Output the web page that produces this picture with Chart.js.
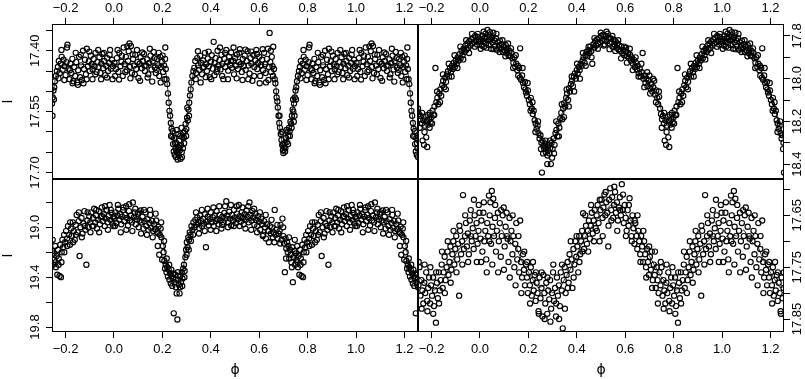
<!DOCTYPE html>
<html><head><meta charset="utf-8">
<script src="https://cdn.jsdelivr.net/npm/chart.js@4.4.1/dist/chart.umd.min.js"></script>
<style>
html,body{margin:0;padding:0;background:#fff;}
#wrap{position:relative;width:805px;height:379px;overflow:hidden;background:#fff;}
#wrap canvas{position:absolute;left:0;top:0;}
</style></head><body>
<div id="wrap">
<canvas id="cTL" width="805" height="379"></canvas>
<canvas id="cTR" width="805" height="379"></canvas>
<canvas id="cBL" width="805" height="379"></canvas>
<canvas id="cBR" width="805" height="379"></canvas>
</div>
<script>
// ---------- tick values ----------
const phaseTicks = [-0.2, 0, 0.2, 0.4, 0.6, 0.8, 1.0, 1.2];
const tlYTicks = [17.35, 17.40, 17.45, 17.50, 17.55, 17.60, 17.65, 17.70];
const tlYLabels = [17.40, 17.55, 17.70];
const trYTicks = [17.8, 17.9, 18.0, 18.1, 18.2, 18.3, 18.4];
const trYLabels = [17.8, 18.0, 18.2, 18.4];
const blYTicks = [18.8, 19.0, 19.2, 19.4, 19.6, 19.8];
const blYLabels = [19.0, 19.4, 19.8];
const brYTicks = [17.60, 17.65, 17.70, 17.75, 17.80, 17.85];
const brYLabels = [17.65, 17.75, 17.85];

// ---------- observations [phase, magnitude] over one cycle ----------
const tlObs = [
[0.002,17.430],[0.008,17.445],[0.012,17.418],[0.018,17.452],[0.022,17.405],[0.027,17.438],[0.031,17.427],[0.036,17.462],[0.040,17.392],[0.044,17.433],
[0.049,17.415],[0.053,17.448],[0.058,17.425],[0.061,17.401],[0.064,17.382],[0.066,17.440],[0.070,17.388],[0.074,17.455],[0.079,17.420],[0.083,17.436],
[0.088,17.410],[0.092,17.445],[0.097,17.428],[0.101,17.467],[0.106,17.432],[0.110,17.416],[0.115,17.443],[0.119,17.425],[0.124,17.408],[0.128,17.450],
[0.133,17.437],[0.137,17.421],[0.142,17.458],[0.146,17.430],[0.151,17.412],[0.155,17.446],[0.160,17.426],[0.164,17.403],[0.169,17.441],[0.173,17.455],
[0.178,17.420],[0.182,17.436],[0.187,17.462],[0.191,17.415],[0.195,17.440],[0.199,17.427],[0.203,17.452],[0.207,17.436],[0.211,17.420],[0.214,17.445],
[0.217,17.470],[0.220,17.482],[0.223,17.505],[0.226,17.528],[0.229,17.548],[0.232,17.560],[0.235,17.578],[0.238,17.592],[0.241,17.612],[0.244,17.630],
[0.247,17.648],[0.249,17.615],[0.251,17.656],[0.254,17.640],[0.256,17.662],[0.258,17.628],[0.259,17.595],[0.261,17.650],[0.263,17.668],[0.265,17.637],
[0.266,17.605],[0.268,17.658],[0.270,17.622],[0.272,17.645],[0.275,17.666],[0.277,17.632],[0.279,17.590],[0.280,17.650],[0.282,17.612],[0.285,17.640],
[0.287,17.603],[0.290,17.628],[0.293,17.598],[0.296,17.580],[0.299,17.593],[0.302,17.565],[0.305,17.572],[0.308,17.545],[0.311,17.528],[0.314,17.510],
[0.317,17.495],[0.320,17.478],[0.324,17.462],[0.328,17.450],
[0.332,17.442],[0.336,17.425],[0.340,17.455],[0.344,17.418],[0.348,17.436],[0.352,17.447],[0.356,17.412],[0.360,17.430],[0.364,17.458],[0.368,17.424],
[0.372,17.440],[0.376,17.405],[0.380,17.433],[0.384,17.450],[0.388,17.419],[0.392,17.438],[0.396,17.465],[0.400,17.427],[0.404,17.411],[0.408,17.444],
[0.412,17.378],[0.416,17.430],[0.420,17.418],[0.424,17.452],[0.428,17.400],[0.432,17.436],[0.436,17.423],[0.440,17.446],[0.444,17.410],[0.448,17.432],
[0.452,17.470],[0.456,17.420],[0.460,17.440],[0.464,17.398],[0.468,17.428],[0.472,17.449],[0.476,17.415],[0.480,17.435],[0.484,17.404],[0.488,17.442],
[0.492,17.425],[0.496,17.458],[0.500,17.418],[0.504,17.437],[0.508,17.409],[0.512,17.445],[0.516,17.428],[0.520,17.396],[0.524,17.433],[0.528,17.452],
[0.532,17.420],[0.536,17.438],[0.540,17.412],[0.544,17.447],[0.548,17.425],[0.552,17.401],[0.556,17.436],[0.560,17.456],[0.564,17.418],[0.568,17.432],
[0.572,17.474],[0.576,17.410],[0.580,17.440],[0.584,17.424],[0.588,17.398],[0.592,17.445],[0.596,17.430],[0.600,17.415],[0.604,17.462],[0.608,17.435],
[0.612,17.422],[0.616,17.448],[0.620,17.405],[0.624,17.433],[0.628,17.478],[0.632,17.420],[0.636,17.395],[0.640,17.440],[0.643,17.356],[0.646,17.428],
[0.649,17.452],[0.652,17.415],[0.655,17.438],[0.658,17.390],[0.661,17.445],[0.664,17.470],
[0.667,17.480],[0.670,17.500],[0.672,17.515],[0.675,17.525],[0.677,17.540],[0.680,17.560],[0.683,17.578],[0.686,17.590],[0.689,17.605],[0.692,17.620],
[0.695,17.632],[0.698,17.645],[0.700,17.652],[0.702,17.638],[0.705,17.628],[0.708,17.640],[0.711,17.615],[0.714,17.625],[0.717,17.600],[0.720,17.610],
[0.723,17.590],[0.726,17.598],[0.729,17.575],[0.732,17.580],[0.735,17.560],[0.738,17.545],[0.741,17.550],[0.743,17.575],[0.744,17.530],[0.746,17.560],
[0.747,17.515],[0.750,17.498],[0.753,17.490],[0.756,17.475],[0.760,17.462],[0.764,17.450],
[0.768,17.440],[0.772,17.425],[0.776,17.455],[0.780,17.432],[0.784,17.415],[0.788,17.447],[0.792,17.422],[0.796,17.438],[0.800,17.460],[0.804,17.428],
[0.808,17.385],[0.812,17.444],[0.816,17.470],[0.820,17.432],[0.824,17.455],[0.828,17.420],[0.832,17.475],[0.836,17.440],[0.840,17.462],[0.844,17.428],
[0.848,17.478],[0.852,17.448],[0.856,17.415],[0.860,17.465],[0.864,17.436],[0.868,17.472],[0.872,17.400],[0.876,17.445],[0.880,17.422],[0.884,17.458],
[0.888,17.395],[0.892,17.438],[0.896,17.426],[0.900,17.450],[0.904,17.412],[0.908,17.433],[0.912,17.446],[0.916,17.420],[0.920,17.438],[0.924,17.405],
[0.928,17.452],[0.932,17.428],[0.936,17.440],[0.940,17.416],[0.944,17.455],[0.948,17.432],[0.952,17.408],[0.956,17.443],[0.960,17.425],[0.964,17.460],
[0.968,17.437],[0.972,17.418],[0.976,17.450],[0.980,17.430],[0.984,17.398],[0.988,17.444],[0.992,17.422],[0.996,17.438],
[0.005,17.462],[0.015,17.398],[0.021,17.471],[0.033,17.412],[0.047,17.452],[0.055,17.389],[0.068,17.468],[0.077,17.409],[0.086,17.458],[0.095,17.398],
[0.108,17.474],[0.117,17.404],[0.126,17.437],[0.139,17.466],[0.148,17.395],[0.158,17.476],[0.167,17.418],[0.176,17.447],[0.185,17.405],[0.193,17.478],
[0.201,17.412],[0.209,17.470],[0.212,17.392],[0.236,17.610],[0.243,17.598],[0.252,17.628],[0.257,17.645],[0.264,17.652],[0.269,17.640],[0.274,17.610],
[0.281,17.662],[0.289,17.614],[0.298,17.610],[0.303,17.540],[0.310,17.560],[0.338,17.470],[0.347,17.401],[0.358,17.478],[0.367,17.442],[0.379,17.465],
[0.391,17.402],[0.402,17.470],[0.415,17.460],[0.427,17.445],[0.438,17.392],[0.447,17.462],[0.459,17.405],[0.471,17.470],[0.483,17.425],[0.494,17.392],
[0.507,17.468],[0.518,17.405],[0.531,17.472],[0.543,17.397],[0.555,17.470],[0.567,17.402],[0.579,17.462],[0.591,17.408],[0.602,17.480],[0.614,17.396],
[0.626,17.455],[0.638,17.472],[0.648,17.400],[0.657,17.462],[0.684,17.560],[0.693,17.600],[0.699,17.630],[0.707,17.648],[0.713,17.595],[0.719,17.630],
[0.727,17.610],[0.734,17.590],[0.740,17.520],[0.752,17.520],[0.771,17.468],[0.783,17.398],[0.795,17.472],[0.806,17.392],[0.818,17.448],[0.829,17.480],
[0.842,17.405],[0.851,17.484],[0.863,17.410],[0.874,17.480],[0.887,17.470],[0.898,17.402],[0.911,17.470],[0.923,17.458],[0.935,17.398],[0.947,17.470],
[0.958,17.405],[0.971,17.466],[0.982,17.410],[0.994,17.470]
];
const tlFit = [[0,17.433],[0.1,17.432],[0.2,17.436],[0.215,17.455],[0.225,17.510],[0.235,17.575],[0.245,17.615],[0.26,17.640],[0.275,17.645],[0.29,17.620],
[0.30,17.580],[0.31,17.530],[0.32,17.480],[0.33,17.448],[0.34,17.437],[0.5,17.430],[0.655,17.435],[0.665,17.465],[0.675,17.530],[0.685,17.590],
[0.695,17.628],[0.703,17.645],[0.712,17.625],[0.722,17.595],[0.732,17.565],[0.742,17.530],[0.752,17.490],[0.762,17.455],[0.775,17.438],[0.9,17.433],[1.0,17.433]];

const trObs = [
[0.000,17.830],[0.004,17.815],[0.007,17.845],[0.010,17.800],[0.013,17.825],[0.016,17.850],[0.019,17.810],[0.022,17.790],[0.025,17.835],[0.028,17.805],
[0.031,17.772],[0.034,17.820],[0.037,17.842],[0.040,17.798],[0.043,17.815],[0.046,17.860],[0.049,17.808],[0.052,17.830],[0.055,17.785],[0.058,17.820],
[0.062,17.848],[0.066,17.812],[0.070,17.865],[0.074,17.830],[0.078,17.845],[0.082,17.822],[0.086,17.860],[0.090,17.838],[0.094,17.875],[0.098,17.850],
[0.102,17.868],[0.106,17.842],[0.110,17.880],[0.114,17.858],[0.118,17.890],[0.122,17.870],[0.126,17.895],[0.130,17.880],[0.134,17.905],[0.138,17.925],
[0.142,17.900],[0.146,17.945],[0.150,17.930],[0.154,17.960],[0.158,17.985],[0.162,17.950],[0.166,17.858],[0.170,18.005],[0.174,17.985],[0.178,18.020],
[0.182,18.040],[0.186,18.015],[0.190,18.065],[0.194,18.080],[0.198,18.055],[0.202,18.100],[0.206,18.120],[0.210,18.090],[0.214,18.140],[0.218,18.165],
[0.222,18.150],[0.226,18.195],[0.230,18.210],[0.234,18.235],[0.238,18.220],[0.242,18.255],[0.246,18.280],[0.250,18.265],[0.254,18.300],[0.256,18.440],
[0.258,18.290],[0.262,18.315],[0.266,18.330],[0.269,18.305],[0.272,18.345],[0.275,18.320],[0.278,18.400],[0.281,18.335],[0.284,18.310],[0.287,18.350],
[0.290,18.325],[0.293,18.400],[0.296,18.300],[0.300,18.330],[0.304,18.280],[0.308,18.310],[0.312,18.255],[0.316,18.240],[0.320,18.270],[0.324,18.210],
[0.328,18.230],[0.332,18.185],[0.336,18.160],[0.340,18.190],[0.344,18.140],[0.348,18.115],[0.352,18.130],[0.356,18.090],[0.360,18.070],[0.364,18.100],
[0.368,18.045],[0.372,18.060],[0.376,18.025],[0.380,18.010],[0.384,18.035],[0.388,17.990],[0.392,17.975],[0.396,18.000],[0.400,17.960],[0.404,17.975],
[0.408,17.945],[0.412,17.960],[0.416,17.930],[0.420,17.940],[0.424,17.915],[0.428,17.900],[0.432,17.925],[0.436,17.890],[0.440,17.875],[0.444,17.895],
[0.448,17.865],[0.452,17.880],[0.456,17.850],[0.460,17.870],[0.464,17.930],[0.468,17.840],[0.472,17.855],[0.476,17.825],[0.480,17.845],[0.484,17.815],
[0.488,17.835],[0.492,17.810],[0.496,17.828],[0.500,17.800],[0.504,17.822],[0.508,17.795],[0.512,17.815],[0.516,17.840],[0.520,17.800],[0.524,17.825],
[0.528,17.790],[0.532,17.808],[0.536,17.835],[0.540,17.812],[0.544,17.828],[0.548,17.850],[0.552,17.818],[0.556,17.840],[0.560,17.825],[0.564,17.855],
[0.568,17.835],[0.572,17.862],[0.576,17.845],[0.580,17.870],[0.584,17.850],[0.588,17.880],[0.592,17.865],[0.596,17.890],[0.600,17.872],[0.604,17.855],
[0.608,17.895],[0.612,17.880],[0.616,17.905],[0.620,17.888],[0.624,17.915],[0.628,17.900],[0.632,17.930],[0.636,17.912],[0.640,17.945],[0.644,17.925],
[0.648,17.958],[0.652,17.940],[0.656,17.975],[0.660,17.955],[0.664,17.990],[0.668,17.970],[0.672,17.880],[0.676,18.000],[0.680,17.985],[0.684,18.020],
[0.688,18.000],[0.692,18.035],[0.696,18.010],[0.700,17.985],[0.704,18.045],[0.708,18.025],[0.712,18.060],[0.716,18.040],[0.720,18.010],[0.724,18.075],
[0.728,18.055],[0.732,18.090],[0.736,18.120],[0.740,18.085],[0.744,18.140],[0.748,18.165],[0.752,18.190],[0.756,18.175],[0.760,18.210],[0.763,18.290],
[0.766,18.195],[0.769,18.310],[0.772,18.220],[0.775,18.180],[0.778,18.275],[0.781,18.200],[0.784,18.170],[0.787,18.215],[0.790,18.190],[0.793,18.160],
[0.796,18.205],[0.800,18.180],[0.804,18.150],[0.808,18.170],[0.812,18.130],[0.816,17.950],[0.820,18.110],[0.824,18.090],[0.828,18.120],[0.832,18.070],
[0.836,18.050],[0.840,18.080],[0.844,18.030],[0.848,18.010],[0.852,18.040],[0.856,17.995],[0.860,18.015],[0.864,17.980],[0.868,17.965],[0.872,17.990],
[0.876,17.950],[0.880,17.970],[0.884,17.940],[0.888,17.955],[0.892,17.925],[0.896,17.945],[0.900,17.915],[0.904,17.930],[0.908,17.900],[0.912,17.915],
[0.916,17.885],[0.920,17.905],[0.924,17.870],[0.928,17.890],[0.932,17.860],[0.936,17.875],[0.940,17.845],[0.944,17.865],[0.948,17.835],[0.952,17.855],
[0.956,17.825],[0.960,17.845],[0.964,17.815],[0.968,17.835],[0.972,17.810],[0.976,17.828],[0.980,17.800],[0.984,17.820],[0.988,17.840],[0.992,17.805],[0.996,17.825],
[0.003,17.860],[0.015,17.780],[0.027,17.855],[0.041,17.782],[0.056,17.862],[0.068,17.790],[0.081,17.875],[0.093,17.820],[0.105,17.895],[0.116,17.835],
[0.128,17.858],[0.137,17.950],[0.148,17.890],[0.157,17.940],[0.165,17.995],[0.176,17.950],[0.188,18.050],[0.197,18.020],[0.209,18.150],[0.217,18.110],
[0.229,18.250],[0.240,18.200],[0.252,18.330],[0.261,18.350],[0.271,18.290],[0.279,18.360],[0.289,18.290],[0.298,18.370],[0.306,18.350],[0.315,18.200],
[0.326,18.270],[0.338,18.120],[0.347,18.180],[0.358,18.050],[0.367,18.130],[0.379,17.990],[0.389,18.060],[0.401,17.930],[0.413,18.000],[0.425,17.880],
[0.437,17.940],[0.449,17.850],[0.461,17.900],[0.473,17.810],[0.487,17.860],[0.499,17.785],[0.511,17.845],[0.523,17.780],[0.535,17.862],[0.547,17.800],
[0.559,17.870],[0.571,17.820],[0.583,17.905],[0.595,17.850],[0.607,17.925],[0.619,17.860],[0.631,17.960],[0.643,17.900],[0.655,17.990],[0.667,17.930],
[0.679,18.040],[0.691,17.970],[0.703,18.070],[0.715,18.000],[0.727,18.110],[0.739,18.060],[0.751,18.230],[0.761,18.160],[0.771,18.250],[0.782,18.320],
[0.792,18.230],[0.802,18.210],[0.811,18.170],[0.823,18.060],[0.835,18.110],[0.847,17.980],[0.859,18.050],[0.871,17.930],[0.883,17.990],[0.895,17.890],
[0.907,17.950],[0.919,17.850],[0.931,17.910],[0.943,17.820],[0.955,17.880],[0.967,17.790],[0.979,17.850],[0.991,17.790]
];
const trFit = [[0,17.825],[0.03,17.815],[0.06,17.830],[0.09,17.850],[0.12,17.875],[0.15,17.930],[0.18,18.010],[0.21,18.100],[0.24,18.230],[0.265,18.310],
[0.285,18.330],[0.30,18.300],[0.32,18.240],[0.35,18.120],[0.38,18.020],[0.41,17.950],[0.44,17.890],[0.47,17.850],[0.50,17.815],[0.53,17.815],
[0.56,17.835],[0.59,17.870],[0.62,17.900],[0.65,17.945],[0.68,17.990],[0.71,18.040],[0.74,18.110],[0.76,18.190],[0.78,18.210],[0.80,18.185],
[0.82,18.120],[0.85,18.030],[0.88,17.960],[0.91,17.910],[0.94,17.865],[0.97,17.830],[1.0,17.825]];

const blObs = [
[0.002,18.930],[0.006,18.880],[0.010,18.965],[0.014,18.905],[0.018,18.850],[0.022,18.940],[0.026,18.895],[0.030,18.975],[0.034,18.915],[0.038,18.860],
[0.042,18.950],[0.046,18.900],[0.050,18.830],[0.054,18.925],[0.058,18.985],[0.062,18.870],[0.066,18.945],[0.070,18.905],[0.074,18.960],[0.078,18.800],
[0.082,18.920],[0.086,18.880],[0.090,18.975],[0.094,18.935],[0.098,18.890],[0.102,19.000],[0.106,18.945],[0.110,18.865],[0.114,18.960],[0.118,18.915],
[0.122,19.010],[0.126,18.950],[0.130,18.880],[0.134,18.990],[0.138,18.935],[0.142,19.020],[0.146,18.965],[0.150,18.900],[0.154,19.005],[0.158,18.950],
[0.162,19.030],[0.166,18.975],[0.170,19.015],[0.174,18.945],[0.178,19.040],[0.181,19.150],[0.184,18.995],[0.187,19.220],[0.190,19.060],[0.193,19.010],
[0.196,19.080],[0.199,19.260],[0.202,19.150],[0.205,19.200],[0.208,19.270],[0.211,19.330],[0.214,19.300],[0.217,19.360],[0.220,19.320],[0.223,19.395],
[0.226,19.340],[0.229,19.420],[0.232,19.370],[0.235,19.450],[0.238,19.390],[0.241,19.470],[0.244,19.410],[0.247,19.690],[0.250,19.440],[0.253,19.380],
[0.256,19.480],[0.259,19.530],[0.262,19.740],[0.265,19.420],[0.268,19.460],[0.271,19.530],[0.274,19.390],[0.277,19.440],[0.280,19.360],[0.283,19.410],
[0.286,19.330],[0.289,19.300],[0.292,19.350],[0.295,19.240],[0.298,19.180],[0.301,19.120],[0.304,19.160],[0.307,19.080],[0.310,19.100],[0.313,19.040],
[0.316,19.060],[0.320,18.990],[0.324,19.020],[0.328,18.960],[0.332,19.000],[0.336,18.940],[0.340,18.980],[0.344,18.920],[0.348,18.960],[0.352,19.005],
[0.356,18.905],[0.360,18.950],[0.364,18.990],[0.368,18.930],[0.372,18.970],[0.376,18.895],[0.380,19.160],[0.384,18.955],[0.388,18.915],[0.392,18.985],
[0.396,18.935],[0.400,18.880],[0.404,18.960],[0.408,18.920],[0.412,18.990],[0.416,18.905],[0.420,18.950],[0.424,18.870],[0.428,18.935],[0.432,18.975],
[0.436,18.900],[0.440,18.945],[0.444,19.010],[0.448,18.915],[0.452,18.960],[0.456,18.885],[0.460,18.930],[0.464,18.790],[0.468,18.905],[0.472,18.960],
[0.476,18.875],[0.480,18.930],[0.484,18.985],[0.488,18.900],[0.492,18.945],[0.496,18.860],[0.500,18.920],[0.504,18.965],[0.508,18.890],[0.512,18.935],
[0.516,18.820],[0.520,18.910],[0.524,18.955],[0.528,18.880],[0.532,18.925],[0.536,18.975],[0.540,18.895],[0.544,18.940],[0.548,18.865],[0.552,18.915],
[0.556,18.960],[0.560,18.800],[0.564,18.900],[0.568,18.945],[0.572,18.870],[0.576,18.920],[0.580,18.980],[0.584,18.890],[0.588,18.940],[0.592,18.990],
[0.596,18.910],[0.600,18.955],[0.604,19.020],[0.608,18.930],[0.612,18.975],[0.616,19.060],[0.620,18.950],[0.624,19.000],[0.628,19.090],[0.632,18.975],
[0.636,19.030],[0.640,19.120],[0.644,18.990],[0.648,19.050],[0.652,19.000],[0.656,19.080],[0.660,19.040],[0.664,18.860],[0.668,19.060],[0.672,19.020],
[0.676,19.090],[0.680,19.050],[0.684,19.030],[0.688,18.980],[0.692,19.100],[0.696,18.930],[0.700,19.070],[0.703,19.130],[0.706,19.360],[0.709,19.090],
[0.712,19.170],[0.715,19.120],[0.718,19.200],[0.721,19.150],[0.724,19.250],[0.727,19.180],[0.730,19.220],[0.733,19.280],[0.736,19.160],[0.739,19.440],
[0.742,19.240],[0.745,19.190],[0.748,19.300],[0.751,19.210],[0.754,19.260],[0.757,19.150],[0.760,19.320],[0.763,19.230],[0.766,19.380],[0.769,19.180],
[0.772,19.250],[0.775,19.390],[0.778,19.140],[0.781,19.400],[0.784,19.200],[0.787,19.100],[0.790,19.160],[0.794,19.060],[0.798,19.120],[0.802,19.030],
[0.806,19.090],[0.810,18.990],[0.814,19.060],[0.818,19.140],[0.822,19.010],[0.826,19.070],[0.830,18.960],[0.834,19.030],[0.838,19.100],[0.842,18.980],
[0.846,18.900],[0.850,19.040],[0.854,18.950],[0.858,19.230],[0.862,19.000],[0.866,18.925],[0.870,19.050],[0.874,18.970],[0.878,18.870],[0.882,19.020],
[0.886,19.300],[0.890,18.945],[0.894,19.000],[0.898,18.910],[0.902,18.960],[0.906,18.880],[0.910,18.990],[0.914,18.925],[0.918,18.850],[0.922,18.960],
[0.926,18.905],[0.930,19.010],[0.934,18.940],[0.938,18.870],[0.942,18.975],[0.946,18.915],[0.950,18.840],[0.954,18.950],[0.958,18.895],[0.962,18.990],
[0.966,18.930],[0.970,18.860],[0.974,18.960],[0.978,18.910],[0.982,18.820],[0.986,18.940],[0.990,18.885],[0.994,18.970],[0.998,18.915],
[0.004,18.990],[0.016,18.820],[0.028,19.040],[0.039,18.840],[0.051,19.020],[0.063,18.815],[0.076,19.030],[0.088,18.850],[0.101,18.880],[0.112,19.050],
[0.124,18.860],[0.136,19.060],[0.149,18.860],[0.160,19.080],[0.172,18.890],[0.183,19.050],[0.195,18.960],[0.207,19.110],[0.218,19.250],[0.228,19.300],
[0.237,19.340],[0.246,19.370],[0.255,19.420],[0.264,19.360],[0.273,19.480],[0.282,19.470],[0.291,19.400],[0.300,19.220],[0.309,19.180],[0.318,19.110],
[0.327,19.060],[0.339,18.880],[0.351,19.050],[0.363,18.860],[0.375,19.030],[0.387,18.850],[0.399,19.020],[0.411,18.840],[0.423,19.030],[0.435,18.830],
[0.447,18.980],[0.459,18.830],[0.471,19.000],[0.483,18.820],[0.495,18.990],[0.507,18.830],[0.519,18.990],[0.531,18.840],[0.543,19.010],[0.555,18.830],
[0.567,19.020],[0.579,18.850],[0.591,19.040],[0.603,18.880],[0.615,19.070],[0.627,18.900],[0.639,19.030],[0.651,18.940],[0.663,19.120],[0.675,18.980],
[0.687,19.130],[0.699,19.000],[0.711,19.250],[0.723,19.080],[0.735,19.320],[0.747,19.100],[0.759,19.280],[0.771,19.300],[0.783,19.280],[0.795,19.200],
[0.807,19.150],[0.819,18.960],[0.831,19.120],[0.843,19.060],[0.855,18.880],[0.867,19.080],[0.879,18.990],[0.891,18.880],[0.903,19.040],[0.915,18.990],
[0.927,18.860],[0.939,19.040],[0.951,18.910],[0.963,18.830],[0.975,19.020],[0.987,18.860],[0.997,18.990]
];
const blFit = [[0,18.930],[0.05,18.920],[0.10,18.935],[0.15,18.960],[0.185,19.000],[0.20,19.080],[0.215,19.250],[0.23,19.360],[0.25,19.400],[0.27,19.410],
[0.285,19.340],[0.30,19.160],[0.315,19.040],[0.33,18.985],[0.40,18.950],[0.50,18.925],[0.60,18.950],[0.66,19.030],[0.70,19.080],[0.74,19.200],
[0.77,19.230],[0.79,19.150],[0.82,19.040],[0.86,18.980],[0.92,18.945],[1.0,18.930]];

const brObs = [
[0.002,17.695],[0.006,17.660],[0.010,17.720],[0.014,17.645],[0.018,17.700],[0.022,17.680],[0.026,17.735],[0.030,17.665],[0.034,17.690],[0.037,17.612],
[0.040,17.650],[0.043,17.625],[0.046,17.705],[0.049,17.603],[0.052,17.672],[0.055,17.618],[0.058,17.690],[0.062,17.655],[0.066,17.720],[0.070,17.680],
[0.074,17.645],[0.078,17.700],[0.082,17.665],[0.086,17.730],[0.090,17.690],[0.094,17.650],[0.098,17.635],[0.102,17.710],[0.106,17.672],[0.110,17.645],
[0.114,17.695],[0.118,17.740],[0.122,17.655],[0.126,17.700],[0.130,17.680],[0.134,17.725],[0.138,17.690],[0.142,17.750],[0.146,17.705],[0.150,17.665],
[0.154,17.735],[0.158,17.715],[0.162,17.760],[0.166,17.660],[0.170,17.740],[0.174,17.770],[0.178,17.725],[0.182,17.755],[0.186,17.785],[0.190,17.745],
[0.194,17.770],[0.198,17.800],[0.202,17.760],[0.206,17.785],[0.210,17.750],[0.214,17.805],[0.218,17.775],[0.222,17.795],[0.226,17.765],[0.230,17.815],
[0.234,17.780],[0.238,17.800],[0.242,17.835],[0.246,17.770],[0.250,17.810],[0.254,17.790],[0.258,17.845],[0.262,17.765],[0.266,17.800],[0.270,17.820],
[0.274,17.780],[0.278,17.840],[0.282,17.795],[0.286,17.812],[0.290,17.775],[0.294,17.830],[0.298,17.800],[0.302,17.760],[0.306,17.815],[0.310,17.790],
[0.314,17.845],[0.318,17.770],[0.322,17.805],[0.326,17.785],[0.330,17.825],[0.334,17.760],[0.338,17.795],[0.342,17.868],[0.346,17.775],[0.350,17.750],
[0.354,17.800],[0.358,17.765],[0.362,17.740],[0.366,17.780],[0.370,17.725],[0.374,17.755],[0.378,17.735],[0.382,17.790],[0.386,17.715],[0.390,17.745],
[0.394,17.700],[0.398,17.730],[0.402,17.710],[0.406,17.760],[0.410,17.690],[0.414,17.725],[0.418,17.700],[0.422,17.680],[0.426,17.646],[0.430,17.715],
[0.434,17.690],[0.438,17.670],[0.442,17.705],[0.446,17.680],[0.450,17.660],[0.454,17.695],[0.458,17.670],[0.462,17.645],[0.466,17.685],[0.470,17.660],
[0.474,17.640],[0.478,17.675],[0.482,17.650],[0.486,17.630],[0.490,17.665],[0.494,17.700],[0.498,17.640],[0.502,17.620],[0.506,17.655],[0.510,17.635],
[0.514,17.610],[0.518,17.650],[0.522,17.625],[0.526,17.645],[0.530,17.710],[0.534,17.620],[0.538,17.598],[0.542,17.640],[0.546,17.615],[0.550,17.655],
[0.554,17.630],[0.558,17.605],[0.562,17.645],[0.566,17.625],[0.570,17.660],[0.574,17.635],[0.578,17.615],[0.582,17.650],[0.586,17.590],[0.590,17.640],
[0.594,17.665],[0.598,17.630],[0.602,17.655],[0.606,17.680],[0.610,17.640],[0.614,17.670],[0.618,17.617],[0.622,17.660],[0.626,17.690],[0.630,17.650],
[0.634,17.675],[0.638,17.705],[0.642,17.665],[0.646,17.690],[0.650,17.715],[0.654,17.680],[0.658,17.700],[0.662,17.725],[0.666,17.690],[0.670,17.710],
[0.674,17.740],[0.678,17.700],[0.682,17.725],[0.686,17.750],[0.690,17.715],[0.694,17.740],[0.698,17.765],[0.702,17.730],[0.706,17.755],[0.710,17.720],
[0.714,17.775],[0.718,17.745],[0.722,17.765],[0.726,17.790],[0.730,17.750],[0.734,17.775],[0.738,17.800],[0.742,17.760],[0.746,17.785],[0.750,17.750],
[0.754,17.805],[0.758,17.775],[0.762,17.795],[0.766,17.820],[0.770,17.780],[0.774,17.800],[0.778,17.760],[0.782,17.815],[0.786,17.790],[0.790,17.770],
[0.794,17.820],[0.798,17.785],[0.802,17.805],[0.806,17.770],[0.810,17.825],[0.814,17.795],[0.818,17.857],[0.822,17.780],[0.826,17.810],[0.830,17.760],
[0.834,17.795],[0.838,17.775],[0.842,17.745],[0.846,17.790],[0.850,17.760],[0.854,17.730],[0.858,17.775],[0.862,17.750],[0.866,17.720],[0.870,17.765],
[0.874,17.740],[0.878,17.710],[0.882,17.755],[0.886,17.725],[0.890,17.700],[0.894,17.745],[0.898,17.715],[0.902,17.690],[0.906,17.735],[0.910,17.705],
[0.914,17.805],[0.918,17.680],[0.922,17.725],[0.926,17.700],[0.930,17.611],[0.934,17.715],[0.938,17.690],[0.942,17.665],[0.946,17.710],[0.950,17.685],
[0.954,17.725],[0.958,17.660],[0.962,17.640],[0.966,17.700],[0.970,17.675],[0.974,17.715],[0.978,17.650],[0.982,17.690],[0.986,17.665],[0.990,17.705],
[0.994,17.680],[0.998,17.645],
[0.005,17.740],[0.016,17.625],[0.028,17.760],[0.039,17.700],[0.051,17.745],[0.063,17.630],[0.075,17.760],[0.087,17.640],[0.099,17.755],[0.111,17.690],
[0.123,17.770],[0.135,17.650],[0.147,17.785],[0.159,17.690],[0.171,17.800],[0.183,17.720],[0.195,17.740],[0.207,17.820],[0.219,17.740],[0.231,17.760],
[0.243,17.840],[0.255,17.760],[0.267,17.850],[0.279,17.770],[0.291,17.855],[0.303,17.745],[0.315,17.820],[0.327,17.850],[0.339,17.745],[0.351,17.830],
[0.363,17.790],[0.375,17.700],[0.387,17.770],[0.399,17.690],[0.411,17.740],[0.423,17.720],[0.435,17.650],[0.447,17.720],[0.459,17.630],[0.471,17.700],
[0.483,17.680],[0.495,17.620],[0.507,17.690],[0.519,17.605],[0.531,17.670],[0.543,17.660],[0.555,17.595],[0.567,17.680],[0.579,17.640],[0.591,17.610],
[0.603,17.690],[0.615,17.630],[0.627,17.700],[0.639,17.660],[0.651,17.650],[0.663,17.740],[0.675,17.680],[0.687,17.770],[0.699,17.710],[0.711,17.790],
[0.723,17.720],[0.735,17.820],[0.747,17.740],[0.759,17.830],[0.771,17.745],[0.783,17.835],[0.795,17.750],[0.807,17.840],[0.819,17.760],[0.831,17.820],
[0.843,17.720],[0.855,17.800],[0.867,17.700],[0.879,17.780],[0.891,17.680],[0.903,17.760],[0.915,17.670],[0.927,17.745],[0.939,17.650],[0.951,17.740],
[0.963,17.690],[0.975,17.620],[0.987,17.740],[0.995,17.630]
];
const brFit = [[0,17.700],[0.03,17.685],[0.06,17.690],[0.09,17.678],[0.12,17.700],[0.15,17.712],[0.18,17.745],[0.21,17.768],[0.24,17.790],[0.27,17.785],
[0.30,17.800],[0.33,17.790],[0.36,17.765],[0.39,17.740],[0.42,17.705],[0.45,17.680],[0.48,17.660],[0.51,17.645],[0.54,17.630],[0.57,17.635],
[0.60,17.645],[0.63,17.665],[0.66,17.690],[0.69,17.720],[0.72,17.745],[0.75,17.770],[0.78,17.785],[0.81,17.795],[0.84,17.780],[0.87,17.755],
[0.90,17.725],[0.93,17.705],[0.96,17.690],[1.0,17.700]];

// ---------- chart construction ----------
const X_MIN = -0.256, X_MAX = 1.256;
Chart.defaults.font.family = '"Liberation Sans", Arial, Helvetica, sans-serif';
Chart.defaults.font.size = 13;
Chart.defaults.color = '#000';

function foldPoints(obs) {
  const out = [];
  for (const s of [-1, 0, 1]) for (const [p, m] of obs) {
    const x = p + s;
    if (x >= X_MIN && x <= X_MAX) out.push({x: x, y: m});
  }
  return out;
}
function foldLine(fit) {
  const out = [];
  for (const s of [-1, 0, 1]) for (const [p, m] of fit) {
    const x = p + s;
    if (x >= -0.45 && x <= 1.45) out.push({x: x, y: m});
  }
  out.sort((a, b) => a.x - b.x);
  return out.filter((d, i) => i === 0 || Math.abs(d.x - out[i - 1].x) > 1e-9);
}
function fmtPhase(v) {
  return (v < -1e-9 ? '\u2212' : '') + Math.abs(v).toFixed(1);
}
const framePlugin = {
  id: 'frame',
  afterDraw(chart) {
    const a = chart.chartArea, ctx = chart.ctx;
    ctx.save();
    ctx.strokeStyle = '#000';
    ctx.lineWidth = 1;
    ctx.strokeRect(a.left + 0.5, a.top + 0.5, a.right - a.left - 1, a.bottom - a.top - 1);
    ctx.restore();
  }
};

function makePanel(c) {
  const gridOpts = {display: true, drawOnChartArea: false, drawTicks: true, tickLength: 6, color: '#000', lineWidth: 1};
  new Chart(document.getElementById(c.id), {
    type: 'scatter',
    data: {
      datasets: [
        {data: foldPoints(c.obs), showLine: false, pointRadius: 2.6, pointHoverRadius: 2.6,
         pointBorderWidth: 1.15, pointBorderColor: '#000', pointBackgroundColor: 'rgba(0,0,0,0)', clip: 0},
        {data: foldLine(c.fit), showLine: true, borderColor: '#000', borderWidth: 0.8,
         pointRadius: 0, pointHoverRadius: 0, fill: false, tension: 0, clip: 0}
      ]
    },
    options: {
      responsive: false, animation: false, devicePixelRatio: 1, events: [],
      layout: {padding: c.pad, autoPadding: false},
      plugins: {legend: {display: false}, tooltip: {enabled: false}},
      scales: {
        x: {
          type: 'linear', position: c.xPos, min: X_MIN, max: X_MAX,
          afterBuildTicks: s => { s.ticks = phaseTicks.map(v => ({value: v})); },
          afterFit: s => { s.height = c.xH; s.paddingLeft = 0; s.paddingRight = 0; },
          ticks: {autoSkip: false, minRotation: 0, maxRotation: 0, padding: c.xPad, color: '#000',
                  callback: v => fmtPhase(v)},
          grid: gridOpts, border: {display: false},
          title: {display: c.xTitle, text: '\u03D5', color: '#000',
                  font: {family: '"DejaVu Sans", sans-serif', size: 14, lineHeight: 1.2}, padding: {top: 0, bottom: 0}}
        },
        y: {
          type: 'linear', position: c.yPos, reverse: true, min: c.yMin, max: c.yMax,
          afterBuildTicks: s => { s.ticks = c.yTicks.map(v => ({value: v})); },
          afterFit: s => { s.width = c.yW; s.paddingTop = 0; s.paddingBottom = 0; },
          ticks: {autoSkip: false, minRotation: 90, maxRotation: 90, crossAlign: 'center', padding: c.yPad, color: '#000',
                  callback: v => c.yLabels.some(l => Math.abs(l - v) < 1e-9) ? v.toFixed(c.yDec) : ''},
          grid: gridOpts, border: {display: false},
          title: {display: c.yTitle, text: 'I', color: '#000', font: {size: 14, lineHeight: 1.2}, padding: {top: 0, bottom: 0}}
        }
      }
    },
    plugins: [framePlugin]
  });
}

makePanel({id: 'cTL', obs: tlObs, fit: tlFit, yMin: 17.334, yMax: 17.716, yTicks: tlYTicks, yLabels: tlYLabels, yDec: 2,
  xPos: 'top', yPos: 'left', pad: {left: 0, top: 0, right: 387, bottom: 200}, xH: 24, yW: 52, xPad: 2, yPad: -5.8, xTitle: false, yTitle: true});
makePanel({id: 'cTR', obs: trObs, fit: trFit, yMin: 17.744, yMax: 18.470, yTicks: trYTicks, yLabels: trYLabels, yDec: 1,
  xPos: 'top', yPos: 'right', pad: {left: 418, top: 0, right: 0, bottom: 200}, xH: 24, yW: 21, xPad: 2, yPad: -5.2, xTitle: false, yTitle: false});
makePanel({id: 'cBL', obs: blObs, fit: blFit, yMin: 18.612, yMax: 19.840, yTicks: blYTicks, yLabels: blYLabels, yDec: 1,
  xPos: 'bottom', yPos: 'left', pad: {left: 0, top: 179, right: 387, bottom: 0}, xH: 47, yW: 52, xPad: 4, yPad: -2.2, xTitle: true, yTitle: true});
makePanel({id: 'cBR', obs: brObs, fit: brFit, yMin: 17.580, yMax: 17.875, yTicks: brYTicks, yLabels: brYLabels, yDec: 2,
  xPos: 'bottom', yPos: 'right', pad: {left: 418, top: 179, right: 0, bottom: 0}, xH: 47, yW: 21, xPad: 4, yPad: -8.8, xTitle: true, yTitle: false});
</script>
</body></html>
